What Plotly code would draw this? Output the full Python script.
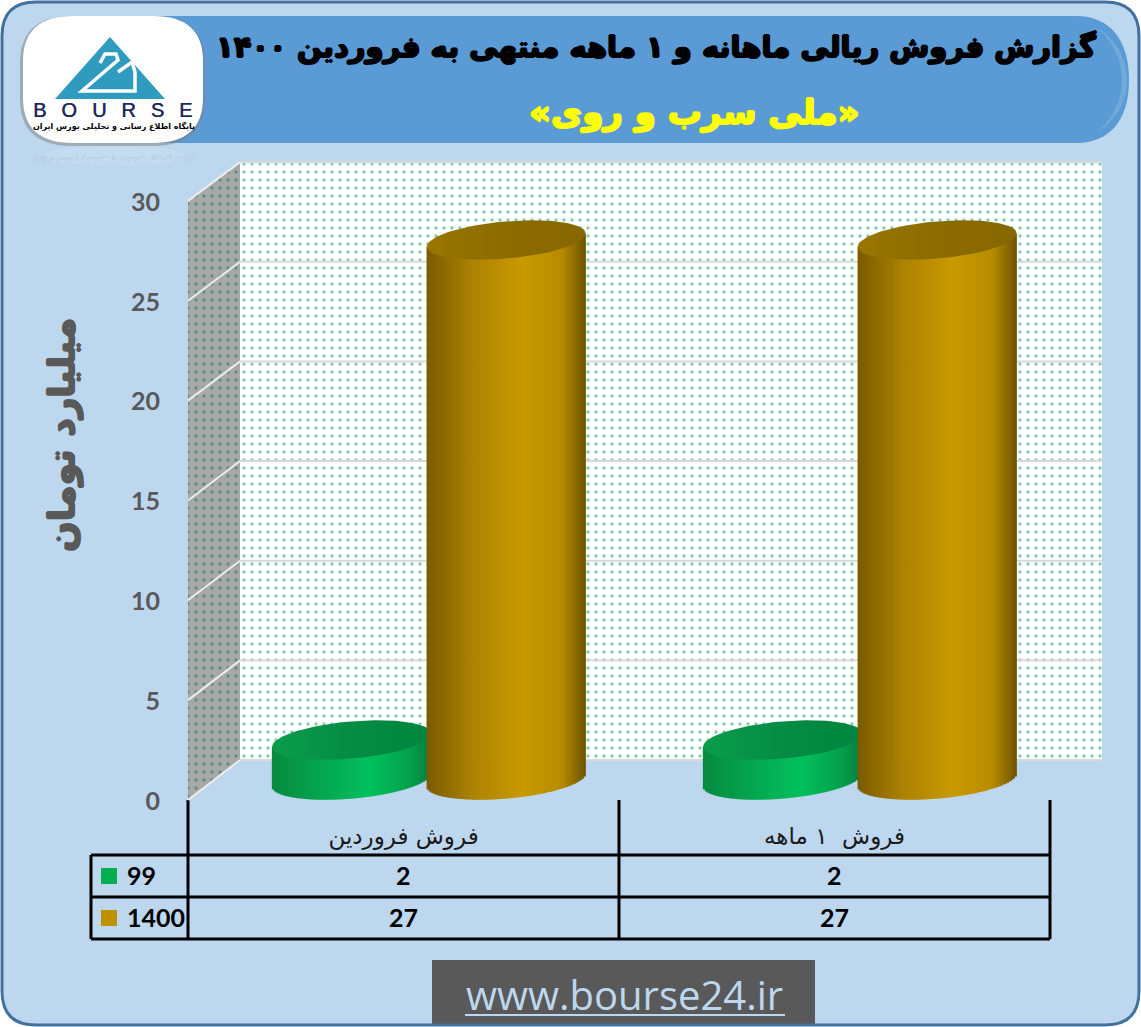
import numpy as np
import plotly.graph_objects as go

W, H = 1141, 1027
categories = ["فروش فروردین", "فروش  ۱ ماهه"]
series_names = ["99", "1400"]
values_99 = [2, 2]
values_1400 = [27, 27]
y_ticks = [0, 5, 10, 15, 20, 25, 30]
title_text = "گزارش فروش ریالی ماهانه و ۱ ماهه منتهی به فروردین ۱۴۰۰"
subtitle_text = "«ملی سرب و روی»"
y_title = "میلیارد تومان"
green_stops = [(0, "#078A40"), (0.3, "#04A54E"), (0.62, "#00C05C"), (0.85, "#04A34D"), (1, "#078040")]
gold_stops = [(0, "#7A5C00"), (0.3, "#AD8300"), (0.6, "#C89A00"), (0.85, "#B88C00"), (1, "#6E5300")]


def dx(p):
    return p / W


def dy(p):
    return 1 - p / H


def lerp(stops, t):
    for (a, ca), (b, cb) in zip(stops, stops[1:]):
        if t <= b:
            f = (t - a) / (b - a)
            ra = [int(ca[i:i + 2], 16) for i in (1, 3, 5)]
            rb = [int(cb[i:i + 2], 16) for i in (1, 3, 5)]
            return "rgb(%d,%d,%d)" % tuple(round(u + (v - u) * f) for u, v in zip(ra, rb))
    return stops[-1][1]


def hide(**k):
    return dict(visible=False, fixedrange=True, automargin=False, **k)


fig = go.Figure()
none = dict(hoverinfo="skip", showlegend=False)

# ---- walls, on the pixel axes
back_y = lambda v: 760 - 19.93 * v
front_y = lambda v: 800 - 19.97 * v
PAT = dict(shape=".", size=8, solidity=0.14)
fig.add_trace(go.Scatter(x=[240, 1102, 1102, 240, 240], y=[back_y(30), back_y(30), 760, 760, back_y(30)],
                         mode="lines", line=dict(width=0), fill="toself", fillcolor="#FFFFFF",
                         fillpattern=dict(fgcolor="#00A055", bgcolor="#FFFFFF", **PAT), xaxis="x", yaxis="y", **none))
fig.add_trace(go.Scatter(x=[188, 240, 240, 188, 188], y=[800, 760, back_y(30), front_y(30), 800],
                         mode="lines", line=dict(width=0), fill="toself", fillcolor="#A8A8A8",
                         fillpattern=dict(fgcolor="#107A40", bgcolor="#A8A8A8", **PAT), xaxis="x", yaxis="y", **none))
gx, gy, dgx, dgy = [], [], [], []
for t in y_ticks:
    gx += [240, 1102, None]
    gy += [back_y(t), back_y(t), None]
    dgx += [188, 240, None]
    dgy += [front_y(t), back_y(t), None]
fig.add_trace(go.Scatter(x=gx, y=gy, mode="lines", line=dict(color="#D9D9D9", width=2), xaxis="x", yaxis="y", **none))
fig.add_trace(go.Scatter(x=dgx, y=dgy, mode="lines", line=dict(color="#EDEDED", width=2), xaxis="x", yaxis="y", **none))

# ---- front axis: tick labels + category labels
fig.add_trace(go.Scatter(x=[0.5, 1.5], y=[0, 0], mode="markers", marker=dict(opacity=0), xaxis="x2", yaxis="y2", **none))

# ---- cylinders
A = 0.184
S = 1.8
B = 0.93
N = 80


def cylinder(values, offset, stops, top_cs, ax_x, ax_y):
    step = 2 * A / N
    xs, ys, base, cols = [], [], [], []
    for i, v in enumerate(values):
        c = i + 0.5 + offset
        for k in range(N):
            u = (k + 0.5) / N
            d = (2 * u - 1) * A
            low = S * d - B * np.sqrt(max(0, 1 - (d / A) ** 2))
            xs.append(c + d)
            base.append(low)
            ys.append(v + S * d - low)
            cols.append(lerp(stops, u))
    fig.add_trace(go.Bar(x=xs, y=ys, base=base, width=step * 1.35,
                         marker=dict(color=cols, line=dict(width=0)), xaxis=ax_x, yaxis=ax_y, **none))
    th = np.linspace(0, 2 * np.pi, 90)
    for i, v in enumerate(values):
        c = i + 0.5 + offset
        fig.add_trace(go.Scatter(x=c + A * np.cos(th), y=v + S * A * np.cos(th) + B * np.sin(th),
                                 mode="lines", line=dict(width=0), fill="toself",
                                 fillgradient=dict(type="horizontal", colorscale=top_cs),
                                 xaxis=ax_x, yaxis=ax_y, **none))


cylinder(values_99, -0.181, green_stops, [[0, "#0A9C4C"], [0.5, "#058C44"], [1, "#00843F"]], "x3", "y3")
cylinder(values_1400, 0.178, gold_stops, [[0, "#9A7600"], [0.5, "#8C6C00"], [1, "#876700"]], "x4", "y4")

# ---- background + table shapes
shapes = []


def path(d, fill, line=None, lw=0, op=1, layer="below"):
    shapes.append(dict(type="path", path=d, xref="x", yref="y", fillcolor=fill, opacity=op, layer=layer,
                       line=dict(color=line or "rgba(0,0,0,0)", width=lw)))


def rrect(x0, y0, x1, y1, rx, ry):
    return (f"M{x0 + rx},{y0} L{x1 - rx},{y0} Q{x1},{y0} {x1},{y0 + ry} L{x1},{y1 - ry} Q{x1},{y1} {x1 - rx},{y1} "
            f"L{x0 + rx},{y1} Q{x0},{y1} {x0},{y1 - ry} L{x0},{y0 + ry} Q{x0},{y0} {x0 + rx},{y0} Z")


def line(x0, y0, x1, y1, color="#000000", w=3):
    shapes.append(dict(type="line", x0=x0, y0=y0, x1=x1, y1=y1, xref="x", yref="y", layer="below",
                       line=dict(color=color, width=w)))


path(rrect(2, 2, 1139, 1025, 34, 34), "#BDD7EE")
path("M90,16 L1076,16 C1110,16 1129,40 1129,80 C1129,120 1110,143 1076,143 L90,143 Z", "#5B9BD5")
path("M1098,28 C1116,40 1127,58 1127,80 C1127,102 1116,120 1098,132 C1112,118 1122,102 1122,80 C1122,58 1112,42 1098,28 Z",
     "#7FB2E0", op=0.6)
path(rrect(45, 147, 185, 165, 55, 9), "#D5E5F4", op=0.3)
path(rrect(20, 16, 205, 146, 52, 47), "#7F7F7F", op=0.5)
path(rrect(23, 16, 203, 143, 50, 45), "#FFFFFF")
path("M110,37 L165,99 L55,99 Z", "#2E9BBF")
shapes.append(dict(type="path", path="M100,63 L105,54 L116,54 L118,60 L82,91 L135,91 L135,72 L132,62 L118,72", xref="x", yref="y",
                   layer="below", line=dict(color="#FFFFFF", width=3.5)))
# data table
line(188, 800, 188, 939)
line(619, 800, 619, 939)
line(1050, 800, 1050, 939)
line(91, 855, 1050, 855)
line(91, 897, 1050, 897)
line(91, 939, 1050, 939)
line(91, 855, 91, 939)
shapes.append(dict(type="rect", x0=101, x1=117, y0=868, y1=884, xref="x", yref="y", fillcolor="#00B050", line=dict(width=0), layer="below"))
shapes.append(dict(type="rect", x0=101, x1=117, y0=910, y1=926, xref="x", yref="y", fillcolor="#BF9000", line=dict(width=0), layer="below"))
shapes.append(dict(type="rect", x0=432, x1=815, y0=960, y1=1025, xref="x", yref="y", fillcolor="#595959", line=dict(width=0), layer="below"))
path(rrect(2, 2, 1139, 1025, 34, 34), "rgba(0,0,0,0)", "#41719C", 3)

# ---- text
ann = []


def stroke(c, w=1):
    return f"{w}px 0 0 {c},-{w}px 0 0 {c},0 {w}px 0 {c},0 -{w}px 0 {c}"


def text(s, x, y, size, color, family="DejaVu Sans", weight=700, angle=0, xanchor="center", xref="x", op=1, shadow=None):
    f = dict(size=size, color=color, family=family, weight=weight)
    if shadow:
        f["shadow"] = shadow
    ann.append(dict(text=s, x=x, y=y, xref=xref, yref="y", showarrow=False, xanchor=xanchor, yanchor="middle",
                    textangle=angle, opacity=op, font=f))


text(title_text, 656, 47, 29, "#000000", shadow=stroke("#000000"))
text(subtitle_text, 694, 112, 34, "#FFFF00", shadow=stroke("#FFFF00"))
text(y_title, 62, 435, 36, "#595959", angle=-90, shadow=stroke("#595959"))
text("B\u2002\u2005O\u2002\u2005U\u2002\u2005R\u2002\u2005S\u2002\u2005E", 112, 110, 20, "#1F2A5C", family="Liberation Sans", weight=400, shadow="0.5px 0 0 #1F2A5C")
text("پایگاه اطلاع رسانی و تحلیلی بورس ایران", 114, 126, 8, "#000000")
text("پایگاه اطلاع رسانی و تحلیلی بورس ایران", 114, 160, 8, "#A9BFD4", angle=180, op=0.35)
text("www.bourse24.ir", 624, 994, 40, "#BDD7EE", family="Open Sans", weight=400)
line(465, 1015, 785, 1015, "#BDD7EE", 2)
text(series_names[0], 125, 875, 25, "#000000", family="Lato", xanchor="left")
text(series_names[1], 125, 917, 25, "#000000", family="Lato", xanchor="left")
for i, (a, b) in enumerate(zip(values_99, values_1400)):
    text(str(a), i + 0.5, 875, 25, "#000000", family="Lato", xref="x2")
    text(str(b), i + 0.5, 917, 25, "#000000", family="Lato", xref="x2")

xdom_front = [dx(188), dx(1050)]
xdom_bar = [dx(214), dx(1076)]
fig.update_layout(
    width=W, height=H, autosize=False, margin=dict(l=0, r=0, t=0, b=0),
    paper_bgcolor="#FFFFFF", plot_bgcolor="rgba(0,0,0,0)", showlegend=False, barmode="overlay",
    shapes=shapes, annotations=ann,
    xaxis=hide(range=[0, W], domain=[0, 1]),
    yaxis=hide(range=[H, 0], domain=[0, 1]),
    xaxis2=dict(domain=xdom_front, range=[0, 2], anchor="y2", fixedrange=True, showgrid=False, zeroline=False,
                automargin=False, showline=False, tickmode="array", tickvals=[0.5, 1.5], ticktext=categories, ticks="",
                ticklabelstandoff=19, tickfont=dict(size=23, color="#1A1A1A", family="DejaVu Sans")),
    yaxis2=dict(domain=[dy(801), dy(202)], range=[0, 30], anchor="x2", fixedrange=True, showgrid=False, zeroline=False,
                automargin=False, showline=False, tickmode="array", tickvals=y_ticks, ticks="", ticklabelstandoff=27,
                tickfont=dict(size=25, color="#595959", family="Lato", weight=700)),
    xaxis3=hide(domain=xdom_bar, range=[0, 2], anchor="y3"),
    yaxis3=hide(domain=[dy(820), dy(140)], range=[-2, 32], anchor="x3"),
    xaxis4=hide(domain=xdom_bar, range=[0, 2], anchor="y4"),
    yaxis4=hide(domain=[dy(820), dy(140)], range=[-2, 32], anchor="x4"),
)

fig.write_html("out.html", config=dict(displayModeBar=False),
               post_script="document.body.style.margin='0';document.documentElement.style.overflow='hidden';")
